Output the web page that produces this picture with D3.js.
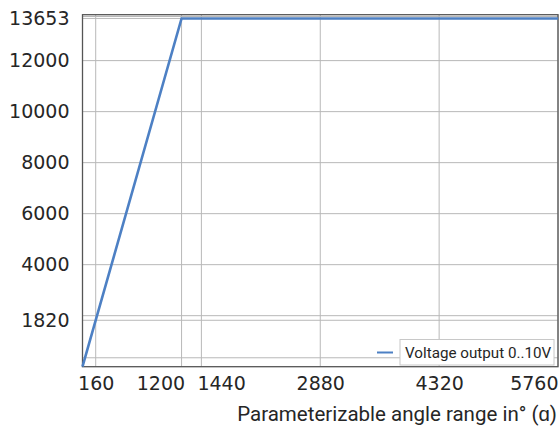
<!DOCTYPE html>
<html>
<head>
<meta charset="utf-8">
<script src="https://cdn.jsdelivr.net/npm/d3@7/dist/d3.min.js"></script>
<style>
  html, body { margin: 0; padding: 0; background: #fff; }
  svg { display: block; }
</style>
</head>
<body>
<svg id="chart" width="560" height="429"></svg>
<script>
// ---- data ----
const angle = [0, 1200, 5760];            // x values (degrees)
const output = [0, 13653, 13653];         // y values
const xTicks = [160, 1200, 1440, 2880, 4320, 5760];
const yTicks = [1820, 4000, 6000, 8000, 10000, 12000, 13653];
const yGridExtra = [350, 2000, 13730];
const seriesName = "Voltage output 0..10V";
const xTitle = "Parameterizable angle range in° (ɑ)";

const W = 560, H = 429;
const m = { left: 82.5, right: 558, top: 14.7, bottom: 366.7 };

const svg = d3.select("#chart");
const x = d3.scaleLinear().domain([0, 5760]).range([m.left, m.right]);
const y = d3.scaleLinear().domain([0, 13800]).range([m.bottom, m.top]);

const gridColor = "#b8b8b8";
const g = svg.append("g");

// horizontal grid
g.selectAll(".hg").data(yTicks.concat(yGridExtra)).enter().append("line")
  .attr("x1", m.left).attr("x2", m.right)
  .attr("y1", d => y(d)).attr("y2", d => y(d))
  .attr("stroke", gridColor).attr("stroke-width", 1);

// vertical grid
g.selectAll(".vg").data(xTicks).enter().append("line")
  .attr("y1", m.top).attr("y2", m.bottom)
  .attr("x1", d => x(d)).attr("x2", d => x(d))
  .attr("stroke", gridColor).attr("stroke-width", 1);

// frame
svg.append("rect")
  .attr("x", m.left).attr("y", m.top)
  .attr("width", m.right - m.left).attr("height", m.bottom - m.top)
  .attr("fill", "none").attr("stroke", "#555").attr("stroke-width", 1.3);

// axes (labels only)
const tickFont = "DejaVu Sans, sans-serif";
const yAxis = d3.axisLeft(y).tickValues(yTicks).tickSize(0).tickPadding(13).tickFormat(d3.format("d"));
const ya = svg.append("g").attr("transform", `translate(${m.left},0)`).call(yAxis);
ya.select(".domain").remove();
ya.selectAll("text").attr("font-family", tickFont).attr("font-size", 19).attr("fill", "#262626");

const xAxis = d3.axisBottom(x).tickValues(xTicks).tickSize(0).tickPadding(10).tickFormat(d3.format("d"));
const xa = svg.append("g").attr("transform", `translate(0,${m.bottom})`).call(xAxis);
xa.select(".domain").remove();
xa.selectAll("text").attr("font-family", tickFont).attr("font-size", 19).attr("fill", "#262626");
// crowded labels shifted aside like the reference
xa.selectAll(".tick").filter(d => d === 1200).select("text").attr("text-anchor", "end").attr("x", 3);
xa.selectAll(".tick").filter(d => d === 1440).select("text").attr("text-anchor", "start").attr("x", -4.5);
xa.selectAll(".tick").filter(d => d === 5760).select("text").attr("text-anchor", "end").attr("x", 0);

// x title
svg.append("text")
  .attr("x", 557).attr("y", 421)
  .attr("text-anchor", "end")
  .attr("font-family", "Roboto, sans-serif").attr("font-size", 20.5)
  .attr("fill", "#262626")
  .text(xTitle);

// line
const line = d3.line().x((d, i) => x(angle[i])).y(d => y(d));
svg.append("path").datum(output)
  .attr("d", line)
  .attr("fill", "none").attr("stroke", "#4d80c4").attr("stroke-width", 2.6)
  .attr("stroke-linejoin", "miter");

// legend
const leg = svg.append("g");
leg.append("rect").attr("x", 400).attr("y", 339.5).attr("width", 154).attr("height", 25.5)
  .attr("fill", "#fff").attr("stroke", "#c8c8c8").attr("stroke-width", 1);
leg.append("line").attr("x1", 377).attr("x2", 393).attr("y1", 352.5).attr("y2", 352.5)
  .attr("stroke", "#4d80c4").attr("stroke-width", 2);
leg.append("text").attr("x", 405).attr("y", 357.8)
  .attr("font-family", "Roboto, sans-serif").attr("font-size", 15.2).attr("fill", "#262626")
  .text(seriesName);
</script>
</body>
</html>
